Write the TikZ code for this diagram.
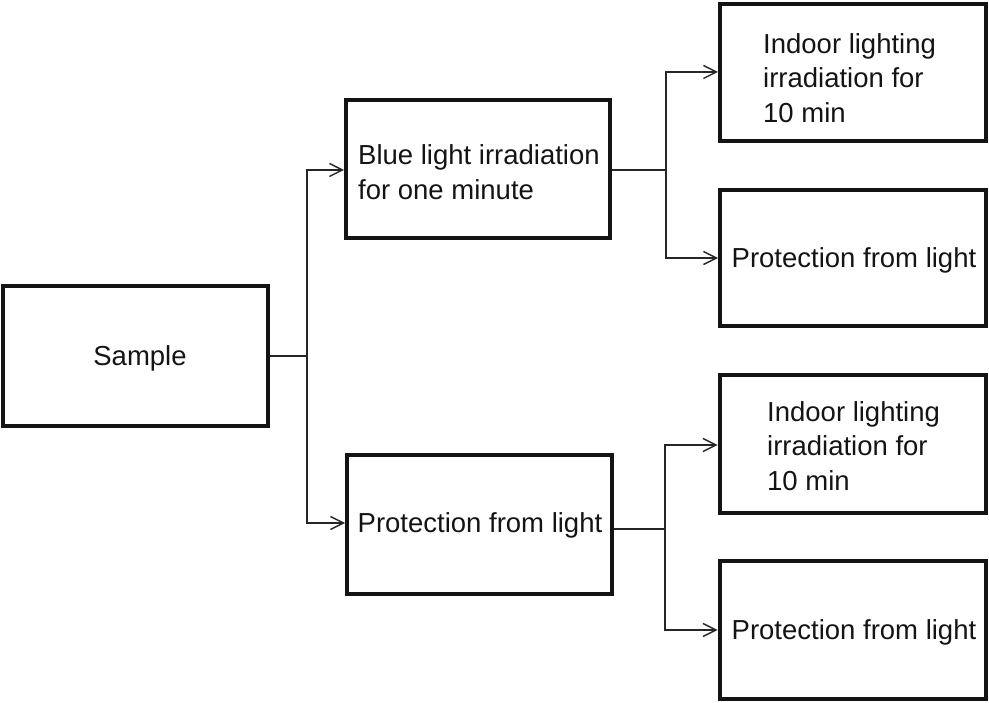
\documentclass[tikz,border=0pt]{standalone}
\usepackage{fontspec}
\setmainfont{Liberation Sans}
\usetikzlibrary{arrows.meta}
\begin{document}
\begin{tikzpicture}[x=1pt,y=-1pt,
  box/.style={draw=black!92,line width=4pt,rectangle,inner sep=0pt},
  lbl/.style={anchor=west,align=left,inner sep=0pt,font=\fontsize{27.5pt}{34.5pt}\selectfont,text=black!92},
  conn/.style={draw=black!85,line width=1.4pt},
  arr/.style={conn,-{Straight Barb[length=13pt,width=13pt,line width=1.4pt]}}]
\useasboundingbox (0,0) rectangle (989,703);
\node[box,minimum width=265pt,minimum height=140pt] (sample) at (135.5,356) {};
\node[box,minimum width=264pt,minimum height=138pt] (blue) at (478,169) {};
\node[box,minimum width=265pt,minimum height=139pt] (prot) at (479.5,524.5) {};
\node[box,minimum width=266pt,minimum height=137pt] (r1) at (853,72.5) {};
\node[box,minimum width=266pt,minimum height=136pt] (r2) at (853,258) {};
\node[box,minimum width=266pt,minimum height=138pt] (r3) at (852.5,444) {};
\node[box,minimum width=266pt,minimum height=138pt] (r4) at (852.5,630) {};
\node[lbl,anchor=center] (tsample) at (140,358) {Sample};
\node[lbl] (tblue) at (358,172) {Blue light irradiation\\for one minute};
\node[lbl] (tprot) at (357.5,525) {Protection from light};
\node[lbl] (tr1) at (763,78) {Indoor lighting\\irradiation for\\10 min};
\node[lbl] (tr2) at (731.5,260) {Protection from light};
\node[lbl] (tr3) at (767,446) {Indoor lighting\\irradiation for\\10 min};
\node[lbl] (tr4) at (731.5,632) {Protection from light};
\coordinate (j1) at (307,356);
\coordinate (j2) at (666,170);
\coordinate (j3) at (665,529);
\draw[conn] (sample.east) -- (j1);
\draw[arr] (j1) |- ([yshift=-1pt]blue.west);
\draw[arr] (j1) |- ([yshift=1.5pt]prot.west);
\draw[conn] ([yshift=-1pt]blue.east) -- (j2);
\draw[arr] (j2) |- ([yshift=0.5pt]r1.west);
\draw[arr] (j2) |- ([yshift=0pt]r2.west);
\draw[conn] ([yshift=-4.5pt]prot.east) -- (j3);
\draw[arr] (j3) |- ([yshift=-1pt]r3.west);
\draw[arr] (j3) |- (r4.west);
\end{tikzpicture}
\end{document}
